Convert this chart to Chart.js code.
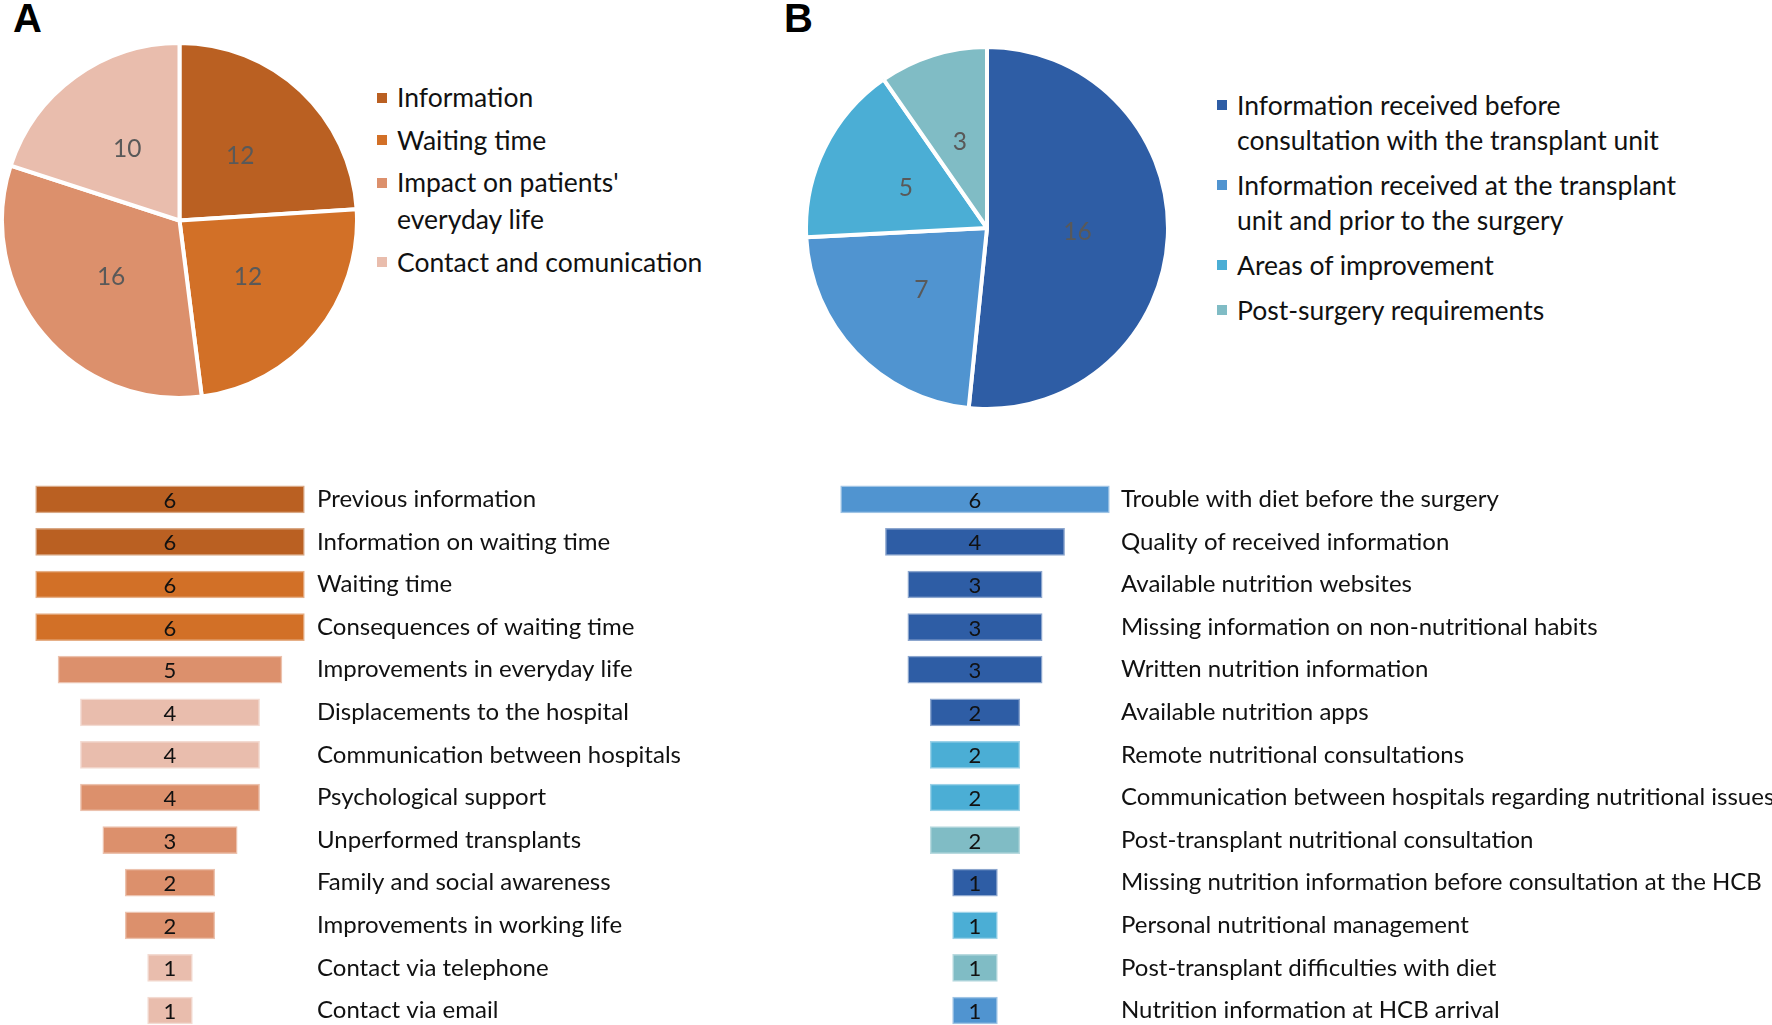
<!DOCTYPE html>
<html>
<head>
<meta charset="utf-8">
<script src="https://cdn.jsdelivr.net/npm/chart.js@4.4.0/dist/chart.umd.min.js"></script>
<style>
  html, body { margin: 0; padding: 0; width: 1772px; height: 1025px; overflow: hidden; background: #fff; }
  .box { position: absolute; }
  .panel { position: absolute; font-family: "Liberation Sans", Arial, sans-serif; font-weight: bold; font-size: 40px; line-height: 1; color: #000; }
  .legend { position: absolute; font-family: Lato, sans-serif; color: #111; }
  .legend .item { position: relative; padding-left: 20px; }
  .legend .sw { position: absolute; left: 0; width: 10px; height: 10px; }
</style>
</head>
<body>
<div class="panel" style="left:13px;top:-2px">A</div>
<div class="panel" style="left:784px;top:-2px">B</div>

<div class="box" style="left:0px;top:40.5px;width:359px;height:359px"><canvas id="pieA"></canvas></div>
<div class="legend" id="legendA" style="left:377px;top:79px;width:338px;font-size:26.5px;line-height:37px"></div>

<div class="box" style="left:804px;top:45px;width:366px;height:366px"><canvas id="pieB"></canvas></div>
<div class="legend" id="legendB" style="left:1217px;top:87.5px;width:475px;font-size:26.5px;line-height:35px"></div>

<div class="box" style="left:24px;top:477.7px;width:760px;height:553.8px"><canvas id="barsA"></canvas></div>
<div class="box" style="left:828.7px;top:477.7px;width:960px;height:553.8px"><canvas id="barsB"></canvas></div>

<script>
// ---- panel A: themes ----
const themesA = ['Information', 'Waiting time', "Impact on patients' everyday life", 'Contact and comunication'];
const themeCountsA = [12, 12, 16, 10];
const themeColorsA = ['#BA6022', '#D27027', '#DC906C', '#E9BDAD'];

const subthemesA = [
    'Previous information',
    'Information on waiting time',
    'Waiting time',
    'Consequences of waiting time',
    'Improvements in everyday life',
    'Displacements to the hospital',
    'Communication between hospitals',
    'Psychological support',
    'Unperformed transplants',
    'Family and social awareness',
    'Improvements in working life',
    'Contact via telephone',
    'Contact via email'
];
const subthemeCountsA = [6, 6, 6, 6, 5, 4, 4, 4, 3, 2, 2, 1, 1];
// index into themesA
const subthemeThemeA = [0, 0, 1, 1, 2, 3, 3, 2, 2, 2, 2, 3, 3];

// ---- panel B: themes ----
const themesB = [
    'Information received before consultation with the transplant unit',
    'Information received at the transplant unit and prior to the surgery',
    'Areas of improvement',
    'Post-surgery requirements'
];
const themeCountsB = [16, 7, 5, 3];
const themeColorsB = ['#2E5DA5', '#5094D0', '#4BAED5', '#80BCC5'];

const subthemesB = [
    'Trouble with diet before the surgery',
    'Quality of received information',
    'Available nutrition websites',
    'Missing information on non-nutritional habits',
    'Written nutrition information',
    'Available nutrition apps',
    'Remote nutritional consultations',
    'Communication between hospitals regarding nutritional issues',
    'Post-transplant nutritional consultation',
    'Missing nutrition information before consultation at the HCB',
    'Personal nutritional management',
    'Post-transplant difficulties with diet',
    'Nutrition information at HCB arrival'
];
const subthemeCountsB = [6, 4, 3, 3, 3, 2, 2, 2, 2, 1, 1, 1, 1];
const subthemeThemeB = [1, 0, 0, 0, 0, 0, 2, 2, 3, 0, 2, 3, 1];

const FONT = 'Lato, "Open Sans", sans-serif';

// lighter edge for the bars (mix with white)
const soften = (hex, t = 0.45) => {
    const n = parseInt(hex.slice(1), 16);
    const r = n >> 16, g = (n >> 8) & 255, b = n & 255;
    const m = c => Math.round(c + (255 - c) * t);
    return `rgb(${m(r)},${m(g)},${m(b)})`;
};

// numbers in the middle of each slice
const pieValuePlugin = {
    id: 'pieValuePlugin',
    afterDatasetsDraw(chart) {
        const ctx = chart.ctx;
        const ds = chart.data.datasets[0];
        chart.getDatasetMeta(0).data.forEach((arc, i) => {
            const p = arc.getCenterPoint();
            ctx.save();
            ctx.font = `24.5px ${FONT}`;
            ctx.fillStyle = '#595959';
            ctx.textAlign = 'center';
            ctx.textBaseline = 'middle';
            ctx.fillText(String(ds.data[i]), p.x, p.y);
            ctx.restore();
        });
    }
};

// numbers centred on each bar
const barValuePlugin = {
    id: 'barValuePlugin',
    afterDatasetsDraw(chart) {
        const ctx = chart.ctx;
        const vals = chart.data.datasets[0].values;
        chart.getDatasetMeta(0).data.forEach((bar, i) => {
            const p = bar.getCenterPoint();
            ctx.save();
            ctx.font = `22px ${FONT}`;
            ctx.fillStyle = '#111';
            ctx.textAlign = 'center';
            ctx.textBaseline = 'middle';
            ctx.fillText(String(vals[i]), p.x, p.y + 1.5);
            ctx.restore();
        });
    }
};

const createPie = (id, labels, values, colors) => new Chart(document.getElementById(id), {
    type: 'pie',
    data: {
        labels,
        datasets: [{
            data: values,
            backgroundColor: colors,
            borderColor: '#ffffff',
            borderWidth: 4
        }]
    },
    options: {
        responsive: true,
        maintainAspectRatio: false,
        animation: false,
        layout: { padding: 0 },
        plugins: { legend: { display: false }, tooltip: { enabled: false } }
    },
    plugins: [pieValuePlugin]
});

const buildLegend = (id, labels, colors, gap) => {
    const el = document.getElementById(id);
    const lh = parseFloat(getComputedStyle(el).lineHeight);
    labels.forEach((lab, i) => {
        const item = document.createElement('div');
        item.className = 'item';
        item.style.marginBottom = gap + 'px';
        const sw = document.createElement('span');
        sw.className = 'sw';
        sw.style.background = colors[i];
        sw.style.top = (lh / 2 - 5) + 'px';
        item.appendChild(sw);
        item.appendChild(document.createTextNode(lab));
        el.appendChild(item);
    });
};

// funnel of centred bars, labels on a right-hand category axis
const createFunnel = (id, labels, values, themeIdx, palette, labelPad) => {
    const colors = themeIdx.map(t => palette[t]);
    const canvas = document.getElementById(id);
    const boxW = canvas.parentNode.clientWidth;
    const plotW = 292;
    return new Chart(canvas, {
        type: 'bar',
        data: {
            labels,
            datasets: [{
                data: values.map(v => [-v / 2, v / 2]),
                values,
                backgroundColor: colors,
                borderColor: colors.map(c => soften(c)),
                borderWidth: 1.5,
                borderSkipped: false,
                barThickness: 27
            }]
        },
        options: {
            indexAxis: 'y',
            responsive: true,
            maintainAspectRatio: false,
            animation: false,
            layout: { padding: 0 },
            plugins: { legend: { display: false }, tooltip: { enabled: false } },
            scales: {
                x: { display: false, min: -3.26, max: 3.26 },
                y: {
                    position: 'right',
                    grid: { display: false, drawTicks: false },
                    border: { display: false },
                    ticks: {
                        autoSkip: false,
                        padding: labelPad,
                        color: '#111',
                        font: { family: FONT, size: 24 }
                    },
                    afterFit(scale) {
                        scale.width = boxW - plotW;
                        // rows fill the whole box height
                        scale.paddingTop = 0;
                        scale.paddingBottom = 0;
                    }
                }
            }
        },
        plugins: [barValuePlugin]
    });
};

createPie('pieA', themesA, themeCountsA, themeColorsA);
createPie('pieB', themesB, themeCountsB, themeColorsB);
buildLegend('legendA', themesA, themeColorsA, 5.5);
buildLegend('legendB', themesB, themeColorsB, 10);
createFunnel('barsA', subthemesA, subthemeCountsA, subthemeThemeA, themeColorsA, 1);
createFunnel('barsB', subthemesB, subthemeCountsB, subthemeThemeB, themeColorsB, 0);
</script>
</body>
</html>
